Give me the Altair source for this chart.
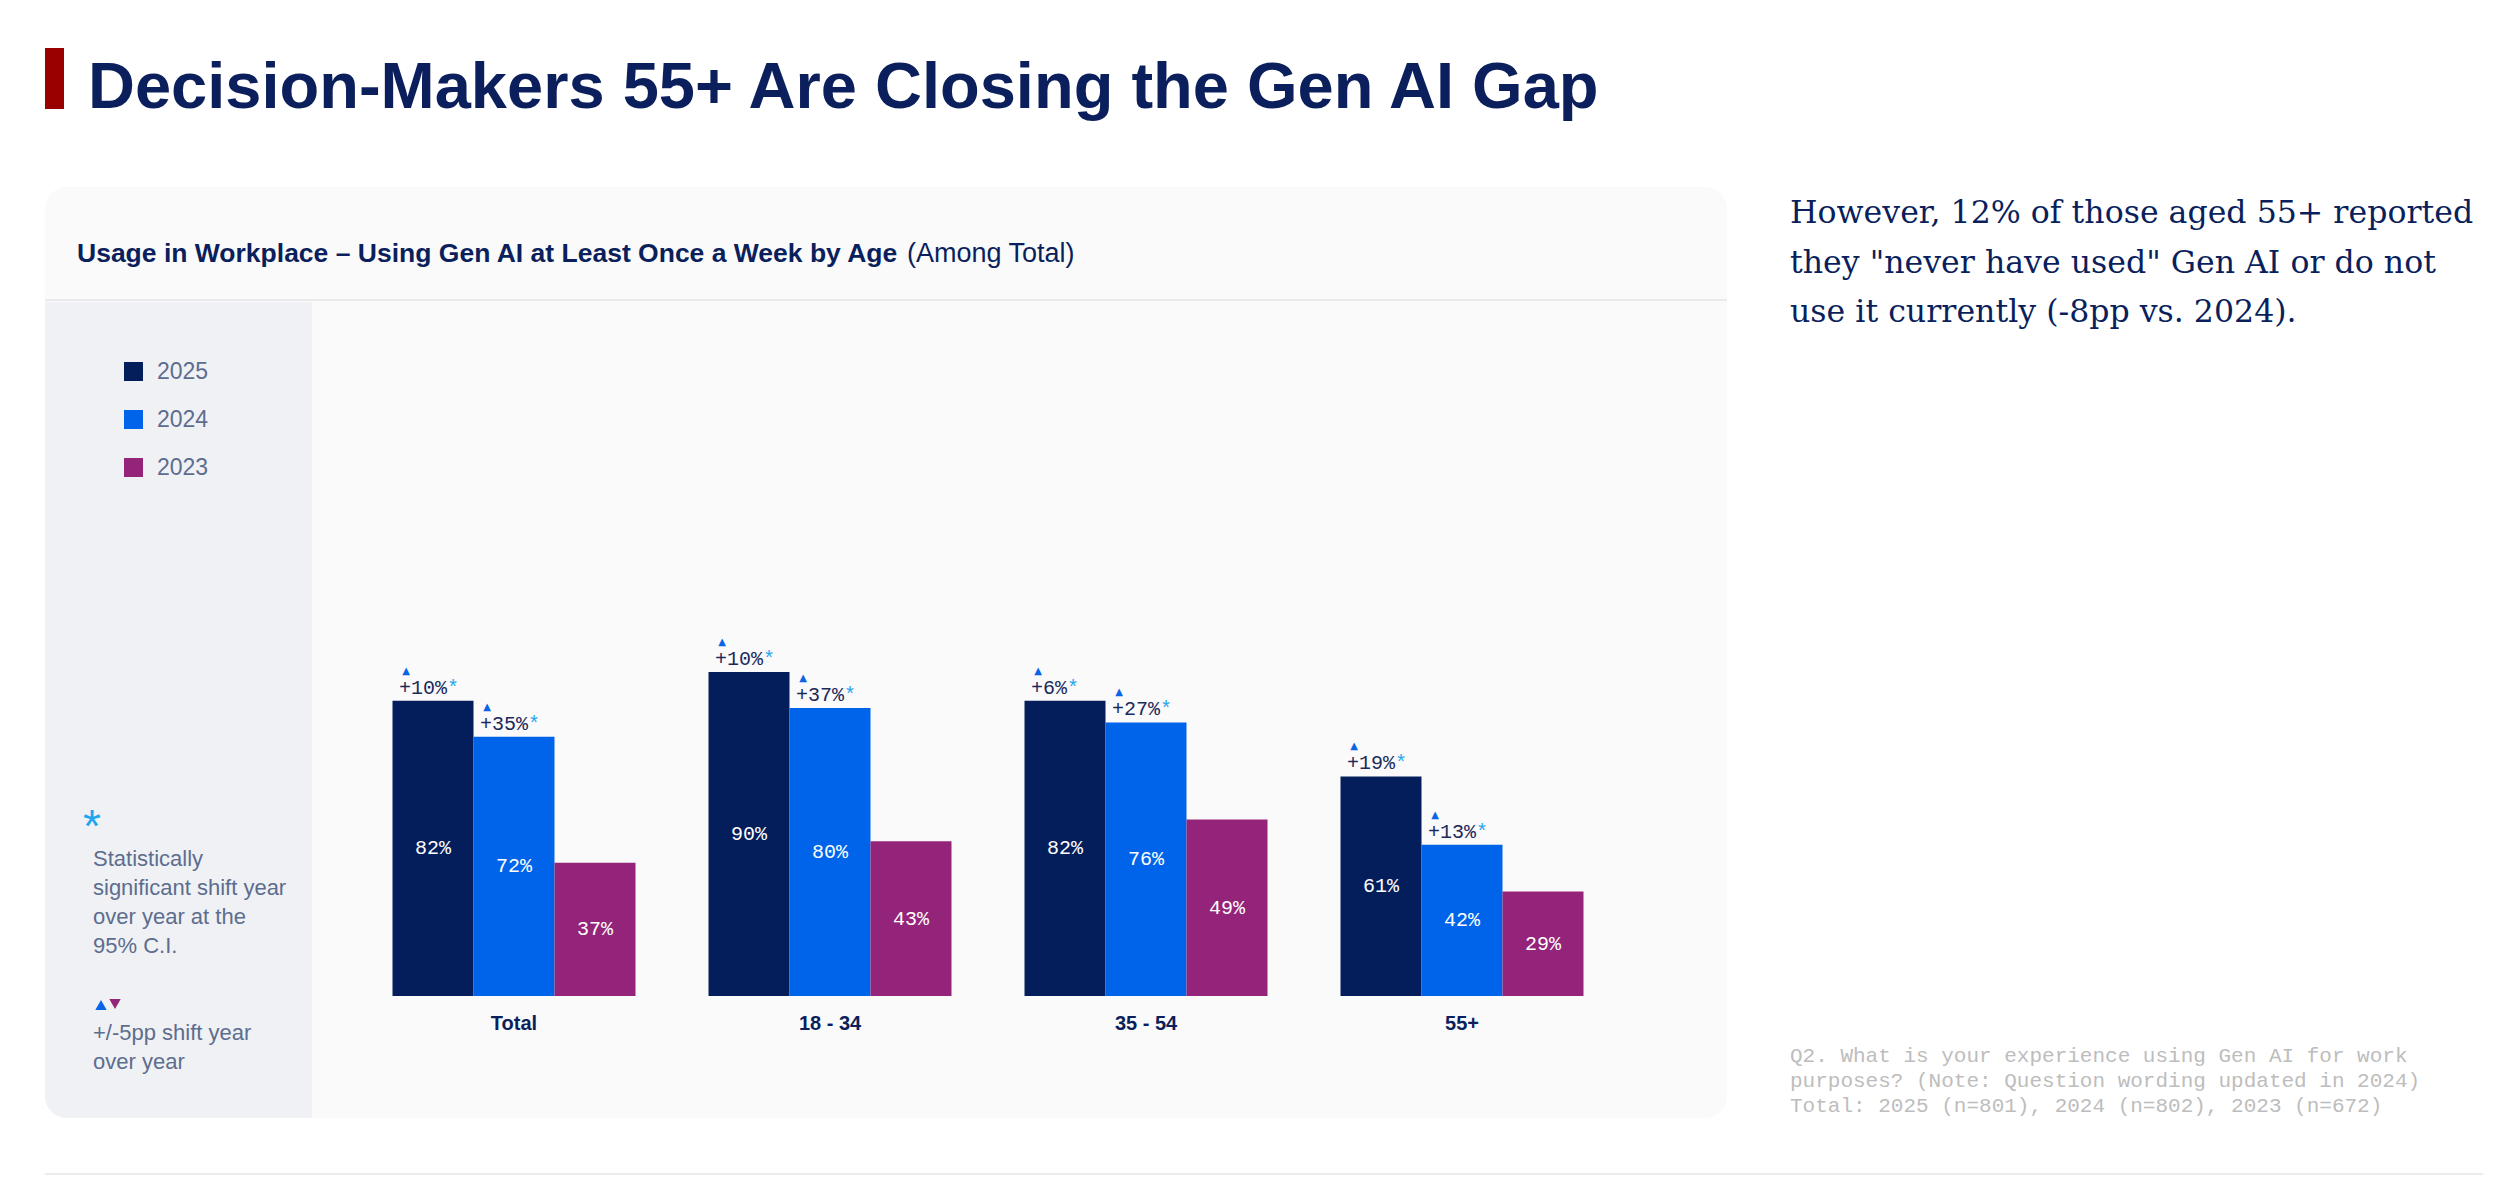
import altair as alt
import pandas as pd

# ---- data -------------------------------------------------------------
groups = ["Total", "18 - 34", "35 - 54", "55+"]
years = ["2025", "2024", "2023"]
year_colors = ["#041e5b", "#0064ea", "#93247a"]

share_2025 = [82, 90, 82, 61]
share_2024 = [72, 80, 76, 42]
share_2023 = [37, 43, 49, 29]

change_2025 = ["+10%", "+10%", "+6%", "+19%"]
change_2024 = ["+35%", "+37%", "+27%", "+13%"]

title_text = "Decision-Makers 55+ Are Closing the Gen AI Gap"
card_title_bold = "Usage in Workplace \u2013 Using Gen AI at Least Once a Week by Age"
card_title_light = "(Among Total)"
side_note = [
    "However, 12% of those aged 55+ reported",
    'they "never have used" Gen AI or do not',
    "use it currently (-8pp vs. 2024).",
]
footnote = [
    "Q2. What is your experience using Gen AI for work",
    "purposes? (Note: Question wording updated in 2024)",
    "Total: 2025 (n=801), 2024 (n=802), 2023 (n=672)",
]
sig_note = ["Statistically", "significant shift year", "over year at the", "95% C.I."]
shift_note = ["+/-5pp shift year", "over year"]

# ---- tables -----------------------------------------------------------
rows = []
for i, g in enumerate(groups):
    for y, vals, ch in [("2025", share_2025, change_2025),
                        ("2024", share_2024, change_2024),
                        ("2023", share_2023, None)]:
        rows.append({
            "group": g,
            "year": y,
            "value": vals[i],
            "label": f"{vals[i]}%",
            "change": ch[i] if ch else None,
        })
bars_df = pd.DataFrame(rows)
bars_df["mid"] = bars_df["value"] / 2
chg_df = bars_df.dropna(subset=["change"]).copy()
chg_df["nchar"] = chg_df["change"].str.len()
chg_df["tri"] = "\u25b2"
cat_df = pd.DataFrame({"group": groups})
one = pd.DataFrame({"k": [0]})

NAVY = "#0b1f5c"
MUTED = "#5d6d8e"
MONO_CHAR = 12.0      # advance width of Liberation Mono at 20px
LABEL_DX = -34        # change labels start a few px inside the bar's left edge

x_enc = alt.X("group:N", sort=groups, axis=None,
              scale=alt.Scale(domain=groups, range=[356, 1620],
                              paddingInner=0.231, paddingOuter=0.1155))
xo_enc = alt.XOffset("year:N", sort=years, scale=alt.Scale(domain=years))
y_scale = alt.Scale(domain=[0, 100], range=[996, 636])


def deco_rect(x, x2, y, y2, color, **kw):
    return alt.Chart(one).mark_rect(color=color, **kw).encode(
        x=alt.value(x), x2=alt.value(x2), y=alt.value(y), y2=alt.value(y2))


def deco_text(x, y, text, **kw):
    return alt.Chart(one).mark_text(text=text, align="left", **kw).encode(
        x=alt.value(x), y=alt.value(y))


# ---- background & frame ----------------------------------------------
card = deco_rect(45, 1727, 187, 1118, "#fafafa", cornerRadius=22)
side_panel = deco_rect(45, 312, 302, 1118, "#eff1f4", cornerRadiusBottomLeft=22)
divider = alt.Chart(one).mark_rule(color="#e3e4e7", strokeWidth=1.5).encode(
    x=alt.value(45), x2=alt.value(1727), y=alt.value(300))
bottom_rule = alt.Chart(one).mark_rule(color="#ececec", strokeWidth=2).encode(
    x=alt.value(45), x2=alt.value(2483), y=alt.value(1174))
red_tab = deco_rect(45, 64, 48, 109, "#990000")

title = deco_text(88, 108, title_text, font="Liberation Sans",
                  fontWeight="bold", fontSize=65, color=NAVY, baseline="alphabetic")
card_t1 = deco_text(77, 262, card_title_bold, font="Liberation Sans",
                    fontWeight="bold", fontSize=26.5, color=NAVY, baseline="alphabetic")
card_t2 = deco_text(907, 262, card_title_light, font="Liberation Sans",
                    fontSize=27, color=NAVY, baseline="alphabetic")
note = deco_text(1790, 223, side_note, font="DejaVu Serif", fontSize=31.6,
                 color=NAVY, baseline="alphabetic", lineHeight=49.5)
foot = deco_text(1790, 1062, footnote, font="Liberation Mono", fontSize=21,
                 color="#bdbdbd", baseline="alphabetic", lineHeight=25)

# ---- key notes in side panel -----------------------------------------
star_key = alt.Chart(one).mark_text(text="*", font="Liberation Sans", fontSize=46,
                                    color="#1ea6ee", align="center",
                                    baseline="middle").encode(
    x=alt.value(92), y=alt.value(828))
sig_text = deco_text(93, 866, sig_note, font="Liberation Sans", fontSize=22,
                     color=MUTED, baseline="alphabetic", lineHeight=29)
tri_up = alt.Chart(one).mark_point(shape="triangle-up", filled=True, size=130,
                                   color="#0a64e6", opacity=1).encode(
    x=alt.value(101), y=alt.value(1005))
tri_dn = alt.Chart(one).mark_point(shape="triangle-down", filled=True, size=130,
                                   color="#93247a", opacity=1).encode(
    x=alt.value(115), y=alt.value(1004))
shift_text = deco_text(93, 1040, shift_note, font="Liberation Sans", fontSize=22,
                       color=MUTED, baseline="alphabetic", lineHeight=29)

# ---- bars and labels -------------------------------------------------
bars = alt.Chart(bars_df).mark_bar().encode(
    x=x_enc,
    xOffset=xo_enc,
    y=alt.Y("value:Q", scale=y_scale, axis=None),
    color=alt.Color(
        "year:N", sort=years,
        scale=alt.Scale(domain=years, range=year_colors),
        legend=alt.Legend(
            orient="none", legendX=122, legendY=360, title=None,
            symbolType="square", symbolSize=361, symbolStrokeWidth=0,
            symbolOpacity=1, labelFont="Liberation Sans", labelFontSize=23,
            labelColor=MUTED, labelOffset=12, rowPadding=24, padding=0,
        ),
    ),
)

value_labels = alt.Chart(bars_df).mark_text(
    font="Liberation Mono", fontSize=20, color="white", baseline="middle"
).encode(x=x_enc, xOffset=xo_enc, y=alt.Y("mid:Q", scale=y_scale), text="label:N")

change_labels = alt.Chart(chg_df).mark_text(
    font="Liberation Mono", fontSize=20, color="#1c2a5a", align="left",
    baseline="alphabetic", dx=LABEL_DX, dy=-7
).encode(x=x_enc, xOffset=xo_enc, y=alt.Y("value:Q", scale=y_scale), text="change:N")

# asterisk right after each change label, one layer per label length
star_layers = [
    alt.Chart(chg_df[chg_df["nchar"] == n]).mark_text(
        text="*", font="Liberation Mono", fontSize=20, color="#1ea6ee",
        align="left", baseline="alphabetic", dx=LABEL_DX + n * MONO_CHAR, dy=-7
    ).encode(x=x_enc, xOffset=xo_enc, y=alt.Y("value:Q", scale=y_scale))
    for n in sorted(chg_df["nchar"].unique())
]

change_tris = alt.Chart(chg_df).mark_text(
    font="DejaVu Sans", fontSize=10, color="#0a64e6", align="center",
    baseline="middle", dx=LABEL_DX + 7, dy=-30
).encode(x=x_enc, xOffset=xo_enc, y=alt.Y("value:Q", scale=y_scale), text="tri:N")

cat_labels = alt.Chart(cat_df).mark_text(
    font="Liberation Sans", fontWeight="bold", fontSize=20, color=NAVY,
    baseline="alphabetic"
).encode(x=x_enc, y=alt.value(1030), text="group:N")

chart = alt.layer(
    card, side_panel, divider, bottom_rule, red_tab, title, card_t1, card_t2,
    note, foot, star_key, sig_text, tri_up, tri_dn, shift_text,
    bars, value_labels, change_labels, *star_layers, change_tris, cat_labels,
).properties(
    width=2512, height=1196, padding=0, background="white",
    autosize=alt.AutoSizeParams(type="none"),
).configure_view(stroke=None)

chart.save("out.html", embed_options={"renderer": "svg", "actions": False})
